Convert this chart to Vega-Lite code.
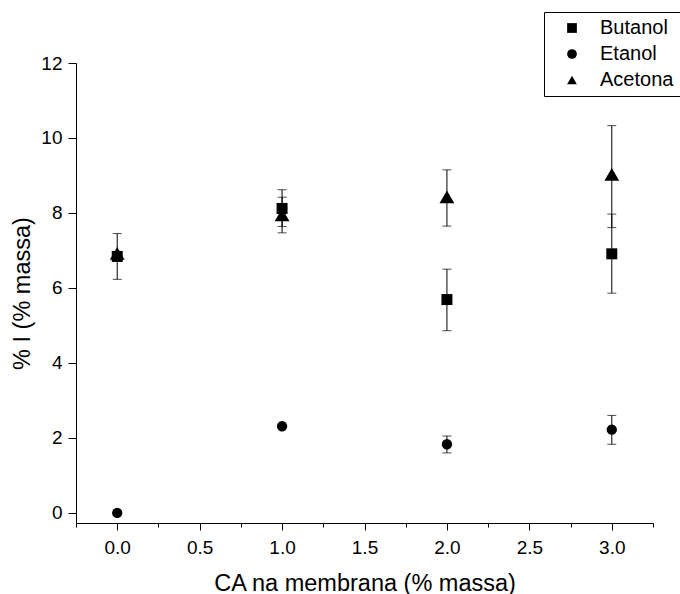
{
  "$schema": "https://vega.github.io/schema/vega-lite/v6.json",
  "width": 577,
  "height": 460,
  "autosize": {"type": "none"},
  "padding": {"left": 76, "top": 63, "right": 27, "bottom": 71},
  "background": "white",
  "config": {
    "view": {"stroke": null},
    "font": "Liberation Sans",
    "axis": {
      "grid": false,
      "domainColor": "black",
      "domainWidth": 1,
      "tickColor": "black",
      "tickWidth": 1,
      "labelColor": "black",
      "titleColor": "black",
      "labelFont": "Liberation Sans",
      "titleFont": "Liberation Sans",
      "labelFontSize": 19,
      "titleFontSize": 23.5,
      "titleFontWeight": "normal",
      "labelOverlap": false,
      "labelFlush": false,
      "labelBound": false
    }
  },
  "data": {
    "values": [
      {"serie": "Butanol", "ca": 0, "val": 6.84, "lo": 6.23, "hi": 7.45},
      {"serie": "Butanol", "ca": 1, "val": 8.12, "lo": 7.64, "hi": 8.62},
      {"serie": "Butanol", "ca": 2, "val": 5.69, "lo": 4.86, "hi": 6.50},
      {"serie": "Butanol", "ca": 3, "val": 6.91, "lo": 5.86, "hi": 7.97},
      {"serie": "Etanol", "ca": 0, "val": 0.0, "lo": 0.0, "hi": 0.0},
      {"serie": "Etanol", "ca": 1, "val": 2.31, "lo": 2.31, "hi": 2.31},
      {"serie": "Etanol", "ca": 2, "val": 1.83, "lo": 1.60, "hi": 2.05},
      {"serie": "Etanol", "ca": 3, "val": 2.22, "lo": 1.83, "hi": 2.60},
      {"serie": "Acetona", "ca": 0, "val": 6.92, "lo": 6.92, "hi": 6.92},
      {"serie": "Acetona", "ca": 1, "val": 7.95, "lo": 7.47, "hi": 8.42},
      {"serie": "Acetona", "ca": 2, "val": 8.43, "lo": 7.65, "hi": 9.15},
      {"serie": "Acetona", "ca": 3, "val": 9.03, "lo": 7.61, "hi": 10.33}
    ]
  },
  "encoding": {
    "x": {
      "field": "ca",
      "type": "quantitative",
      "title": "CA na membrana (% massa)",
      "scale": {"domain": [-0.25, 3.25], "nice": false, "zero": false},
      "axis": {
        "values": [-0.25, 0, 0.25, 0.5, 0.75, 1, 1.25, 1.5, 1.75, 2, 2.25, 2.5, 2.75, 3, 3.25],
        "labelExpr": "abs(datum.value * 2 - round(datum.value * 2)) < 0.000001 ? format(datum.value, '.1f') : ''",
        "tickSize": {"condition": {"test": "abs(datum.value * 2 - round(datum.value * 2)) < 0.000001", "value": 7}, "value": 4},
        "labelPadding": 8,
        "titlePadding": 14
      }
    }
  },
  "layer": [
    {
      "mark": {"type": "rule", "color": "black", "strokeWidth": 1},
      "encoding": {
        "y": {
          "field": "lo",
          "type": "quantitative",
          "title": "% I (% massa)",
          "scale": {"domain": [-0.27, 12], "nice": false, "zero": false},
          "axis": {
            "values": [0, 1, 2, 3, 4, 5, 6, 7, 8, 9, 10, 11, 12],
            "labelExpr": "datum.value % 2 === 0 ? datum.label : ''",
            "tickSize": {"condition": {"test": "datum.value % 2 === 0", "value": 8}, "value": 4},
            "labelPadding": 6,
            "titlePadding": 6
          }
        },
        "y2": {"field": "hi"}
      }
    },
    {
      "mark": {"type": "tick", "orient": "horizontal", "color": "black", "size": 9, "thickness": 1},
      "encoding": {
        "y": {"field": "lo", "type": "quantitative", "title": "% I (% massa)", "scale": {"domain": [-0.27, 12], "nice": false, "zero": false}}
      }
    },
    {
      "mark": {"type": "tick", "orient": "horizontal", "color": "black", "size": 9, "thickness": 1},
      "encoding": {
        "y": {"field": "hi", "type": "quantitative", "title": "% I (% massa)", "scale": {"domain": [-0.27, 12], "nice": false, "zero": false}}
      }
    },
    {
      "transform": [{"filter": "datum.serie === 'Butanol'"}],
      "mark": {"type": "point", "filled": true, "color": "black", "opacity": 1, "size": 121},
      "encoding": {
        "y": {"field": "val", "type": "quantitative", "title": "% I (% massa)", "scale": {"domain": [-0.27, 12], "nice": false, "zero": false}},
        "shape": {
          "field": "serie",
          "type": "nominal",
          "scale": {"domain": ["Butanol", "Etanol", "Acetona"], "range": ["square", "circle", "triangle-up"]},
          "legend": {
            "orient": "none",
            "legendX": 468,
            "legendY": -51,
            "title": null,
            "strokeColor": "black",
            "fillColor": "white",
            "padding": 6,
            "symbolSize": 95,
            "symbolOffset": 12,
            "symbolFillColor": "black",
            "symbolStrokeColor": "black",
            "symbolStrokeWidth": 0,
            "labelFont": "Liberation Sans",
            "labelFontSize": 20,
            "labelColor": "black",
            "labelOffset": 18,
            "rowPadding": 6,
            "values": ["Butanol", "Etanol", "Acetona"],
            "encode": {
              "symbols": {"update": {"size": {"signal": "datum.value === 'Acetona' ? 140 : 95"}}}
            }
          }
        }
      }
    },
    {
      "transform": [{"filter": "datum.serie === 'Etanol'"}],
      "mark": {"type": "point", "filled": true, "color": "black", "opacity": 1, "size": 107},
      "encoding": {
        "y": {"field": "val", "type": "quantitative", "title": "% I (% massa)", "scale": {"domain": [-0.27, 12], "nice": false, "zero": false}},
        "shape": {"field": "serie", "type": "nominal"}
      }
    },
    {
      "transform": [{"filter": "datum.serie === 'Acetona'"}],
      "mark": {"type": "point", "filled": true, "color": "black", "opacity": 1, "size": 220},
      "encoding": {
        "y": {"field": "val", "type": "quantitative", "title": "% I (% massa)", "scale": {"domain": [-0.27, 12], "nice": false, "zero": false}},
        "shape": {"field": "serie", "type": "nominal"}
      }
    }
  ]
}
